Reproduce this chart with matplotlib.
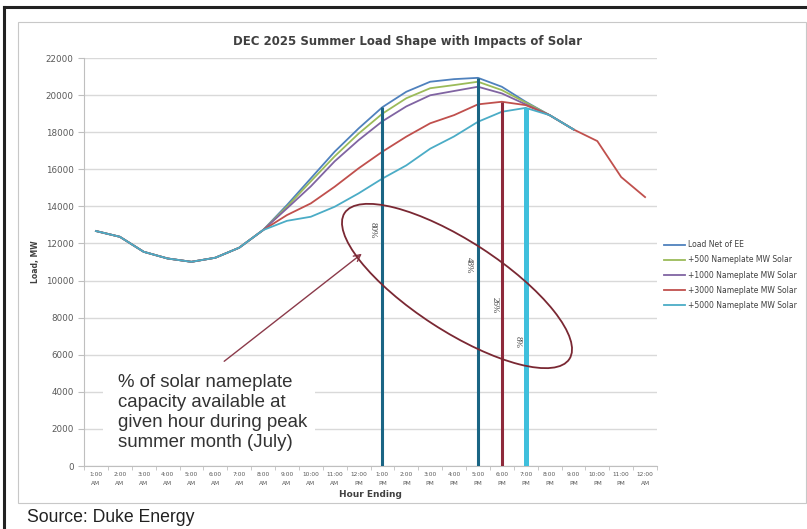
import matplotlib
matplotlib.use("Agg")
import matplotlib.pyplot as plt
from matplotlib.patches import Ellipse, Rectangle
from matplotlib.lines import Line2D
from matplotlib.transforms import Affine2D
import numpy as np

W, H = 807, 529

# Hours (hour ending)
hour_labels = ["1:00\nAM", "2:00\nAM", "3:00\nAM", "4:00\nAM", "5:00\nAM", "6:00\nAM",
               "7:00\nAM", "8:00\nAM", "9:00\nAM", "10:00\nAM", "11:00\nAM", "12:00\nPM",
               "1:00\nPM", "2:00\nPM", "3:00\nPM", "4:00\nPM", "5:00\nPM", "6:00\nPM",
               "7:00\nPM", "8:00\nPM", "9:00\nPM", "10:00\nPM", "11:00\nPM", "12:00\nAM"]

morning = [12670, 12360, 11550, 11190, 11010, 11230, 11770, 12720]
evening_tail = [17520, 15580, 14500]
nan = np.nan

load_net = morning + [14070, 15510, 16950, 18200, 19350, 20180, 20720, 20860, 20930,
                      20450, 19640, 18920, 18150] + [nan, nan, nan]
solar_500 = morning + [13980, 15350, 16700, 17920, 19000, 19830, 20370, 20540, 20720,
                       20270, 19600, 18920, 18150] + [nan, nan, nan]
solar_1000 = morning + [13890, 15080, 16430, 17570, 18590, 19390, 19990, 20220, 20450,
                        20090, 19500, 18920, 18150] + [nan, nan, nan]
solar_3000 = morning + [13530, 14160, 15060, 16050, 16950, 17760, 18480, 18920, 19500,
                        19640, 19460, 18920, 18150] + evening_tail
solar_5000 = morning + [13220, 13440, 13980, 14700, 15500, 16210, 17110, 17770, 18560,
                        19100, 19310, 18920, 18150] + [nan, nan, nan]

series_names = ["Load Net of EE", "+500 Nameplate MW Solar", "+1000 Nameplate MW Solar",
                "+3000 Nameplate MW Solar", "+5000 Nameplate MW Solar"]
series_colors = ["#4F81BD", "#9BBB59", "#8064A2", "#C0504D", "#4BACC6"]

# solar availability markers: hour index, series index the line reaches, label
marker_hours = [12, 16, 17, 18]
marker_series = [0, 0, 3, 4]
marker_labels = ["80%", "48%", "26%", "8%"]
marker_colors = ["#1A6584", "#1A6584", "#8E2A3B", "#3FBFDC"]
marker_widths = [2.2, 2.2, 2.2, 3.6]
label_pos = [(11.6, 12700), (15.6, 10850), (16.7, 8700), (17.65, 6700)]

all_series = [load_net, solar_500, solar_1000, solar_3000, solar_5000]
x = np.arange(len(hour_labels))

fig = plt.figure(figsize=(W / 100, H / 100), dpi=100)
ax = fig.add_axes([84 / W, 1 - 466 / H, (657 - 84) / W, (466 - 58) / H])

for vals, name, col in zip(all_series, series_names, series_colors):
    ax.plot(x, vals, color=col, lw=1.3, label=name, zorder=3)

for h, si, c, lw in zip(marker_hours, marker_series, marker_colors, marker_widths):
    ax.vlines(h, 0, all_series[si][h], color=c, lw=lw, zorder=4)

for (lx, ly), txt in zip(label_pos, marker_labels):
    ax.text(lx, ly, txt, rotation=270, fontsize=6.5, color="#404040",
            ha="center", va="center", family="Liberation Serif", zorder=5)

ax.set_xlim(-0.5, len(hour_labels) - 0.5)
ax.set_ylim(0, 22000)
ax.set_yticks(np.arange(0, 22001, 2000))
ax.tick_params(axis="y", labelsize=6.3, labelcolor="#595959", length=4, color="#BFBFBF")
ax.set_xticks(x)
ax.set_xticklabels(hour_labels, fontsize=4.2, color="#595959", linespacing=2.0)
ax.set_xticks(np.arange(-0.5, len(hour_labels), 1), minor=True)
ax.tick_params(axis="x", which="major", length=0, pad=4)
ax.tick_params(axis="x", which="minor", length=3, color="#BFBFBF")
ax.grid(axis="y", color="#D9D9D9", lw=1)
ax.set_axisbelow(True)
for s in ["top", "right"]:
    ax.spines[s].set_visible(False)
ax.spines["left"].set_color("#BFBFBF")
ax.spines["bottom"].set_color("#BFBFBF")

ax.set_ylabel("Load, MW", fontsize=5.5, fontweight="bold", color="#404040", labelpad=4)
ax.set_xlabel("Hour Ending", fontsize=6.5, fontweight="bold", color="#404040", labelpad=3)
fig.text(408 / W, 1 - 42 / H, "DEC 2025 Summer Load Shape with Impacts of Solar",
         fontsize=8.5, fontweight="bold", color="#404040", ha="center", va="center")

leg = fig.legend(loc="upper left", bbox_to_anchor=(659 / W, 1 - 235 / H), frameon=False,
                 fontsize=5.5, handlelength=2.7, labelspacing=0.8, handletextpad=0.4,
                 borderaxespad=0.3)
for t in leg.get_texts():
    t.set_color("#404040")

# pixel-space transform (y down from top)
pix = Affine2D().scale(1 / W, -1 / H).translate(0, 1) + fig.transFigure

# white text box covering gridlines
fig.patches.append(Rectangle((103, 368), 212, 84, transform=pix, facecolor="white",
                             edgecolor="none", zorder=6))
fig.text(118 / W, 1 - 374 / H,
         "% of solar nameplate\ncapacity available at\ngiven hour during peak\nsummer month (July)",
         fontsize=13.4, family="Liberation Sans", color="#333333", va="top", ha="left",
         linespacing=1.22, zorder=7)

# ellipse and arrow
fig.patches.append(Ellipse((457, 286), 268, 90, angle=33, transform=pix, fill=False,
                           edgecolor="#7A2833", lw=1.3, zorder=8))
ax.annotate("", xy=(364 / W, 1 - 252 / H), xytext=(222 / W, 1 - 363 / H),
            xycoords="figure fraction", textcoords="figure fraction",
            arrowprops=dict(arrowstyle="->", color="#8B3A4A", lw=1.0, mutation_scale=12))

# frames
fig.patches.append(Rectangle((18, 22), 788, 481, transform=pix, fill=False,
                             edgecolor="#C8C8C8", lw=0.8))
fig.lines.append(Line2D([4, 4], [7, 529], transform=pix, color="#222222", lw=2.2))
fig.lines.append(Line2D([4, 807], [7, 7], transform=pix, color="#222222", lw=2.2))

fig.text(27 / W, 1 - 517 / H, "Source: Duke Energy", fontsize=12.7, family="Liberation Sans",
         color="#222222", va="center", ha="left")

fig.savefig("out.png", dpi=100)
